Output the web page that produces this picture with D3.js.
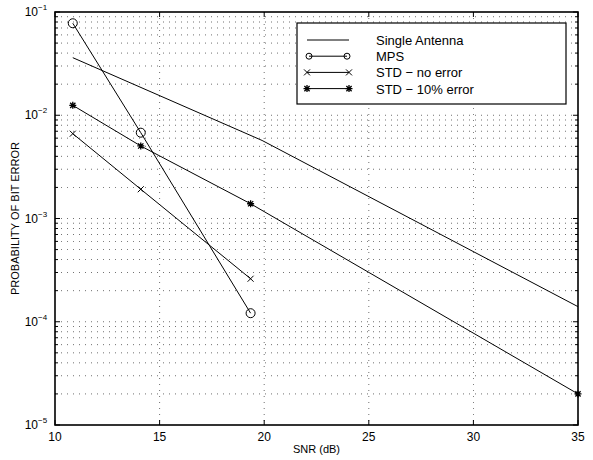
<!DOCTYPE html>
<html>
<head>
<meta charset="utf-8">
<script src="https://cdn.jsdelivr.net/npm/d3@7"></script>
<style>
  body { margin: 0; background: #fff; }
  svg { font-family: "Liberation Sans", Arial, sans-serif; }
  .mreza { stroke: #000; stroke-width: 0.8; stroke-dasharray: 1 5; opacity: 0.7; }
  .krivulja { fill: none; stroke: #000; stroke-width: 1; }
</style>
</head>
<body>
<div id="okvir"></div>
<script>
// 1. Podaci
const snrJedna = [10.85, 19.9, 35]
const pJedna = [0.0361, 5.7e-3, 1.40e-4]

const snrMps = [10.85, 14.1, 19.35]
const pMps = [0.0778, 6.78e-3, 1.21e-4]

const snrStd = [10.85, 14.1, 19.35]
const pStdBezGreske = [6.63e-3, 1.92e-3, 2.61e-4]

const snrStd10 = [10.85, 14.1, 19.35, 35]
const pStd10 = [0.01247, 5.04e-3, 1.39e-3, 2.0e-5]

const xTickovi = [10, 15, 20, 25, 30, 35]
const yEksponenti = [-5, -4, -3, -2, -1]
const legenda = ["Single Antenna", "MPS", "STD \u2212 no error", "STD \u2212 10% error"]

// 2. Dimenzije
const dim = { sirina: 593, visina: 460, lijevo: 55, desno: 578, gore: 12, dolje: 425 }

const svg = d3.select("#okvir").append("svg")
  .attr("width", dim.sirina)
  .attr("height", dim.visina)

const x = d3.scaleLinear().domain([10, 35]).range([dim.lijevo, dim.desno])
const y = d3.scaleLog().domain([1e-5, 1e-1]).range([dim.dolje, dim.gore])

// 3. Mreza
const malaY = []
yEksponenti.slice(0, -1).forEach(e => {
  for (let k = 1; k <= 9; k++) malaY.push(k * Math.pow(10, e))
})
malaY.push(1e-1)

const mreza = svg.append("g")
mreza.selectAll(".gy").data(malaY.filter(v => v > 1e-5 && v < 1e-1)).join("line")
  .attr("class", "mreza")
  .attr("x1", dim.lijevo).attr("x2", dim.desno)
  .attr("y1", d => y(d)).attr("y2", d => y(d))
mreza.selectAll(".gx").data(xTickovi.slice(1, -1)).join("line")
  .attr("class", "mreza")
  .attr("x1", d => x(d)).attr("x2", d => x(d))
  .attr("y1", dim.gore).attr("y2", dim.dolje)

// 4. Osi
const osi = svg.append("g")
osi.append("rect")
  .attr("x", dim.lijevo).attr("y", dim.gore)
  .attr("width", dim.desno - dim.lijevo).attr("height", dim.dolje - dim.gore)
  .attr("fill", "none").attr("stroke", "#000").attr("stroke-width", 1.6)

xTickovi.forEach(t => {
  osi.append("line").attr("x1", x(t)).attr("x2", x(t)).attr("y1", dim.dolje).attr("y2", dim.dolje - 5)
    .attr("stroke", "#000")
  osi.append("line").attr("x1", x(t)).attr("x2", x(t)).attr("y1", dim.gore).attr("y2", dim.gore + 5)
    .attr("stroke", "#000")
  osi.append("text").attr("x", x(t)).attr("y", dim.dolje + 16)
    .attr("text-anchor", "middle").attr("font-size", 12).text(t)
})

malaY.forEach(v => {
  const glavna = Math.abs(Math.log10(v) - Math.round(Math.log10(v))) < 1e-9
  const d = glavna ? 5 : 3
  osi.append("line").attr("x1", dim.lijevo).attr("x2", dim.lijevo + d).attr("y1", y(v)).attr("y2", y(v))
    .attr("stroke", "#000")
  osi.append("line").attr("x1", dim.desno).attr("x2", dim.desno - d).attr("y1", y(v)).attr("y2", y(v))
    .attr("stroke", "#000")
})

yEksponenti.forEach(e => {
  osi.append("text").attr("x", dim.lijevo - 17).attr("y", y(Math.pow(10, e)) + 4)
    .attr("text-anchor", "end").attr("font-size", 12).text("10")
  osi.append("text").attr("x", dim.lijevo - 17).attr("y", y(Math.pow(10, e)) - 2)
    .attr("font-size", 8).text("\u2212" + (-e))
})

svg.append("text").attr("x", (dim.lijevo + dim.desno) / 2).attr("y", dim.dolje + 28)
  .attr("text-anchor", "middle").attr("font-size", 11).text("SNR (dB)")
svg.append("text")
  .attr("transform", `translate(19, ${(dim.gore + dim.dolje) / 2}) rotate(-90)`)
  .attr("text-anchor", "middle").attr("font-size", 11).text("PROBABILITY OF BIT ERROR")

// 5. Krivulje
const linija = d3.line().x(d => x(d[0])).y(d => y(d[1]))
const serije = [
  { snr: snrJedna, p: pJedna, marker: "nista" },
  { snr: snrMps, p: pMps, marker: "krug" },
  { snr: snrStd, p: pStdBezGreske, marker: "iks" },
  { snr: snrStd10, p: pStd10, marker: "zvijezda" },
]

const crtajMarker = (g, vrsta, cx, cy, r = 4.5) => {
  if (vrsta === "krug") {
    g.append("circle").attr("cx", cx).attr("cy", cy).attr("r", r)
      .attr("fill", "none").attr("stroke", "#000")
  } else if (vrsta === "iks") {
    const s = 3
    g.append("path").attr("d", `M${cx - s},${cy - s}L${cx + s},${cy + s}M${cx - s},${cy + s}L${cx + s},${cy - s}`)
      .attr("stroke", "#000")
  } else if (vrsta === "zvijezda") {
    const s = 3.5
    g.append("path")
      .attr("d", `M${cx - s},${cy}L${cx + s},${cy}M${cx},${cy - s}L${cx},${cy + s}` +
        `M${cx - s * 0.75},${cy - s * 0.75}L${cx + s * 0.75},${cy + s * 0.75}` +
        `M${cx - s * 0.75},${cy + s * 0.75}L${cx + s * 0.75},${cy - s * 0.75}`)
      .attr("stroke", "#000").attr("stroke-width", 1.3)
  }
}

const podaci = svg.append("g")
serije.forEach(s => {
  const tocke = s.snr.map((v, i) => [v, s.p[i]])
  podaci.append("path").datum(tocke).attr("class", "krivulja").attr("d", linija)
  tocke.forEach(t => crtajMarker(podaci, s.marker, x(t[0]), y(t[1])))
})

// 6. Legenda
const leg = svg.append("g")
leg.append("rect").attr("x", 297).attr("y", 23).attr("width", 269).attr("height", 81)
  .attr("fill", "#fff").attr("stroke", "#000").attr("stroke-width", 1.2)
legenda.forEach((ime, i) => {
  const ly = 40 + i * 16.2
  const m = serije[i].marker
  const x1 = m === "krug" ? 309 : 307
  const x2 = m === "krug" ? 347 : 349
  leg.append("line").attr("x1", x1).attr("x2", x2).attr("y1", ly).attr("y2", ly)
    .attr("stroke", "#000")
  crtajMarker(leg, m, x1, ly, 3)
  crtajMarker(leg, m, x2, ly, 3)
  leg.append("text").attr("x", 376).attr("y", ly + 5).attr("font-size", 13).text(ime)
})
</script>
</body>
</html>
